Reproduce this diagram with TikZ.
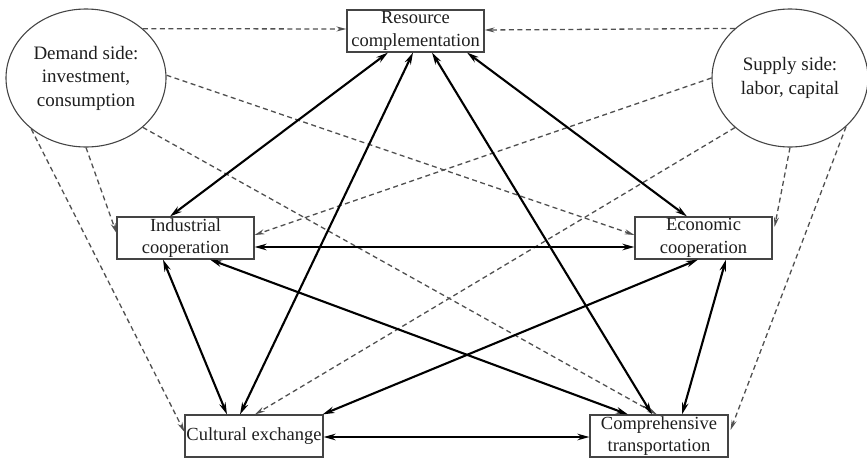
\documentclass[tikz,border=0pt]{standalone}
\usepackage{fontspec}
\setmainfont{Liberation Serif}
\usetikzlibrary{arrows.meta,shapes.geometric}
\definecolor{boxline}{HTML}{444444}
\definecolor{dashline}{HTML}{505050}
\definecolor{txt}{HTML}{1E1E1E}
\begin{document}
\begin{tikzpicture}[x=1pt,y=-1pt,
  factor/.style={draw=boxline,line width=1.1pt,rectangle,minimum width=137pt,
    minimum height=42pt,inner sep=0pt,align=center,text=txt,
    font=\fontsize{18.5}{22.5}\selectfont},
  driver/.style={draw=boxline,line width=1.1pt,ellipse,inner sep=0pt,align=center,
    text=txt,font=\fontsize{19}{23.5}\selectfont},
  link/.style={line width=2.1pt,black,{Stealth[length=12pt,width=6.5pt]}-{Stealth[length=12pt,width=6.5pt]}},
  push/.style={line width=1.3pt,dashline,dash pattern=on 5pt off 3.5pt,
    -{Stealth[length=10pt,width=5pt]}}]
\useasboundingbox (0,0) rectangle (867,461);

% drivers
\node[driver,minimum width=160pt,minimum height=138pt] (dem) at (86,78)
  {Demand side:\\investment,\\consumption};
\node[driver,minimum width=156pt,minimum height=138pt] (sup) at (790,78)
  {Supply side:\\labor, capital};

% factors
\node[factor] (res) at (415.5,31) {Resource\\complementation};
\node[factor] (ind) at (185.5,238) {Industrial\\cooperation};
\node[factor] (eco) at (703.5,238) {Economic\\cooperation};
\node[factor,minimum width=138pt] (cul) at (254,436) {Cultural exchange};
\node[factor,minimum width=138pt] (com) at (659,436) {Comprehensive\\transportation};

% demand-side influences
\draw[push] (dem.41) -- ([yshift=2pt]res.west);
\draw[push] (dem.2) -- ([yshift=3pt]eco.west);
\draw[push] (dem.319) -- ([xshift=-2pt]com.north);
\draw[push] (dem.south) -- ([yshift=5pt]ind.west);
\draw[push] (dem.223) -- ([yshift=4pt]cul.west);

% supply-side influences
\draw[push] (sup.138) -- ([yshift=1pt]res.east);
\draw[push] (sup.180) -- ([yshift=3pt]ind.east);
\draw[push] (sup.222) -- ([xshift=1pt]cul.north);
\draw[push] (sup.south) -- ([xshift=2pt,yshift=11pt]eco.east);
\draw[push] (sup.319) -- ([xshift=2pt,yshift=6pt]com.east);

% mutual links between factors
\draw[link] ([xshift=-27.5pt]res.south) -- ([xshift=-15.5pt]ind.north);
\draw[link] ([xshift=-2.5pt]res.south) -- ([xshift=-14pt]cul.north);
\draw[link] ([xshift=16.5pt]res.south) -- ([xshift=-7pt]com.north);
\draw[link] ([xshift=51.5pt]res.south) -- ([xshift=-16.5pt]eco.north);
\draw[link] ([yshift=-9pt]ind.east) -- ([yshift=-9pt]eco.west);
\draw[link] ([xshift=-22.5pt]ind.south) -- ([xshift=-27pt]cul.north);
\draw[link] ([xshift=24.5pt]ind.south) -- ([xshift=-31pt]com.north);
\draw[link] ([xshift=-5.5pt]eco.south) -- ([xshift=-1pt]cul.north east);
\draw[link] ([xshift=22.5pt]eco.south) -- ([xshift=23pt]com.north);
\draw[link] ([yshift=-1pt]cul.east) -- ([yshift=-1pt]com.west);
\end{tikzpicture}
\end{document}
